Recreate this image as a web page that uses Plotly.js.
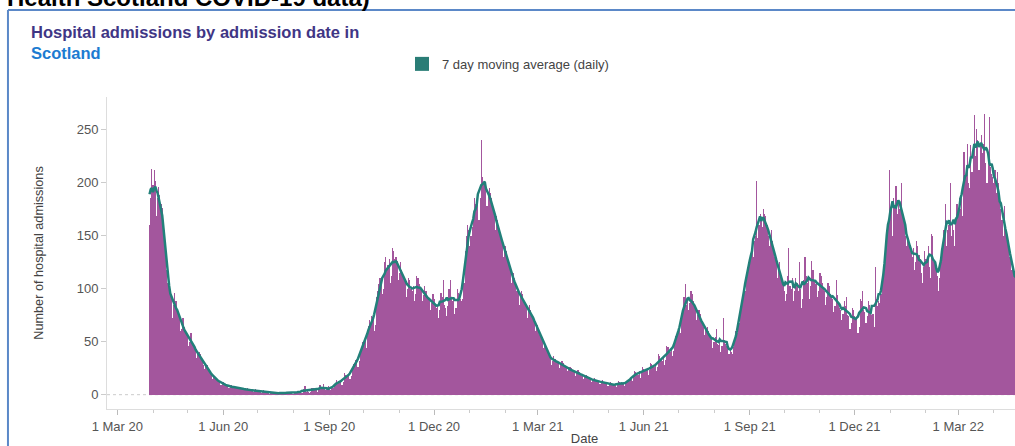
<!DOCTYPE html>
<html><head><meta charset="utf-8">
<script src="https://cdn.plot.ly/plotly-3.0.1.min.js"></script>
<style>html,body{margin:0;padding:0;overflow:hidden;background:#fff;width:1015px;height:446px}#chart{width:1062px;height:446px}</style>
</head><body><div id="chart"></div>
<script>
// First day with data
const firstDate = '2020-03-29';
// Daily admissions, 29 Mar 2020 - 27 Dec 2020
const dailyAdmissionsA = [160,
185,213,198,212,201,168,185,
196,188,180,176,162,145,136,
118,105,100,98,90,72,85,
96,88,80,78,72,60,62,
72,64,60,58,55,46,50,
58,50,48,44,42,35,38,
40,38,34,32,28,24,27,
28,24,22,20,19,15,17,
17,15,14,12,12,9,11,
12,10,9,9,8,6,8,
9,8,7,7,6,5,6,
7,6,6,5,5,4,5,
6,5,4,4,4,3,4,
5,4,3,3,3,2,3,
4,3,2,3,2,1,2,
3,2,2,1,2,1,1,
2,2,1,2,1,1,1,
3,2,2,2,1,1,2,
3,3,2,3,2,2,2,
5,8,3,4,3,2,3,
6,6,5,4,5,3,5,
9,7,6,10,5,4,6,
8,5,4,6,8,6,9,
14,12,13,11,12,9,12,
20,19,18,17,19,15,18,
26,29,30,33,31,26,32,
42,45,50,48,52,44,55,
65,70,68,74,72,60,66,
92,98,104,110,106,95,100,
125,130,118,122,128,105,112,
138,135,128,130,126,108,115,
125,118,112,108,106,92,100,
110,108,100,98,102,88,95,
112,110,104,100,98,88,94,
102,98,92,90,88,80,86,
95,90,85,82,84,72,80,
96,92,108,85,82,74,84,
100,108,92,88,90,76,82,
100,96,92,90,88,90,105];
// Daily admissions, 28 Dec 2020 - 26 Dec 2021
const dailyAdmissionsB = [
135,150,160,155,140,150,158,
168,185,180,178,190,165,185,
240,205,200,198,195,178,190,
195,190,185,178,172,155,168,
165,160,152,148,145,130,140,
140,135,125,122,120,105,112,
115,110,102,98,100,85,92,
98,95,88,85,84,72,80,
85,80,75,72,70,60,65,
66,62,56,54,52,44,48,
46,42,38,36,35,28,32,
36,34,32,30,31,25,28,
32,30,28,27,26,22,25,
26,25,22,21,22,18,20,
23,21,19,18,19,15,17,
19,18,16,15,14,12,14,
16,14,13,12,13,10,12,
14,12,11,11,10,8,10,
12,10,9,9,10,7,9,
13,12,11,10,11,8,10,
12,13,14,15,16,13,17,
22,21,20,19,22,16,20,
26,24,23,22,24,19,23,
30,29,27,26,28,22,26,
38,36,34,32,35,28,33,
46,45,42,40,44,36,41,
52,55,58,60,66,58,70,
78,92,104,85,90,80,86,
98,95,88,84,80,70,75,
80,76,70,66,64,56,62,
64,60,56,54,52,44,50,
54,62,48,47,50,40,46,
72,52,48,46,47,38,44,
40,38,45,52,60,58,65,
68,76,85,92,100,98,112,
120,125,128,132,138,130,145,
150,201,148,160,170,165,158,
175,170,168,160,150,140,145,
155,145,138,130,125,110,118,
125,115,108,102,98,88,95,
112,138,102,100,110,88,98,
110,105,98,125,100,82,90,
108,130,112,105,108,90,102,
126,118,108,104,105,92,98,
115,112,105,100,98,85,92,
105,102,95,92,90,78,84,
108,94,86,82,80,70,76,
88,84,92,75,74,62,68,
82,80,74,70,72,58,64,
90,88,98,80,78,68,74,
88,85,78,75,76,64,120,
90,84,88,86,95,104,112];
// Daily admissions, 27 Dec 2021 - 22 Apr 2022
const dailyAdmissionsC = [
120,132,145,158,212,175,180,
150,185,178,197,170,182,175,
180,200,168,165,150,140,150,
148,140,135,130,138,118,125,
145,140,132,128,115,105,120,
135,128,125,140,120,110,151,
150,125,120,118,112,98,110,
125,135,155,150,180,140,155,
160,200,150,165,155,140,165,
180,170,185,175,190,168,229,
205,215,236,200,195,235,210,
230,264,225,250,240,212,235,
245,228,236,265,218,200,222,
262,215,208,205,200,212,190,
210,200,185,175,165,150,178,
160,152,148,140,130,118,125,
118,112,110,95,105];

const legendLabel = '7 day moving average (daily)';
const titleLine1 = 'Hospital admissions by admission date in';
const titleLine2 = 'Scotland';
const topNote = 'Health Scotland COVID-19 data)';
const xTitle = 'Date';
const yTitle = 'Number of hospital admissions';

const daily = dailyAdmissionsA.concat(dailyAdmissionsB, dailyAdmissionsC);
const t0 = Date.parse(firstDate + 'T00:00:00Z');
const dates = daily.map((_, i) => new Date(t0 + i * 86400000).toISOString().slice(0, 10));
const movingAvg = daily.map((_, i) => {
  let s = 0, n = 0;
  for (let j = i - 3; j <= i + 3; j++) { if (j >= 0 && j < daily.length) { s += daily[j]; n++; } }
  return s / n;
});

const font = 'Liberation Sans, Arial, sans-serif';
const traces = [
  {type: 'bar', x: dates, y: daily, name: 'Daily admissions', showlegend: false,
   marker: {color: '#A3569D', line: {width: 0}}, hoverinfo: 'x+y'},
  {type: 'scatter', mode: 'lines', x: dates, y: movingAvg, name: legendLabel, showlegend: false,
   line: {color: '#22807A', width: 2.5}},
  {type: 'scatter', mode: 'markers', x: [null], y: [null], name: legendLabel, showlegend: true,
   marker: {symbol: 'square', size: 14, color: '#2A7D76'}}
];

const layout = {
  width: 1062, height: 446,
  margin: {l: 107, r: 0, t: 97, b: 37},
  paper_bgcolor: '#ffffff', plot_bgcolor: '#ffffff',
  bargap: 0,
  font: {family: font, color: '#555', size: 13},
  title: {
    text: '<b>' + titleLine1 + '</b><br><b><span style="color:#1C7BD1">' + titleLine2 + '</span></b>',
    font: {family: font, size: 16.5, color: '#3F3685'},
    xref: 'container', x: 31 / 1062, xanchor: 'left',
    yref: 'container', y: 1 - 38 / 446, yanchor: 'top'
  },
  showlegend: true,
  legend: {orientation: 'h', x: (402 - 107) / 955, xanchor: 'left', y: 1.106, yanchor: 'middle',
           font: {family: font, size: 13, color: '#444'}, bgcolor: 'rgba(0,0,0,0)'},
  xaxis: {
    type: 'date', range: ['2020-02-21 01:30', '2022-05-30 02:30'],
    tick0: '2020-03-01', dtick: 'M3', tickformat: '%-d %b %y',
    ticks: 'outside', ticklen: 5, tickcolor: '#bbb',
    showline: true, linecolor: '#ddd', linewidth: 1, showgrid: false, zeroline: false,
    minor: {tick0: '2020-03-01', dtick: 'M1', ticks: 'outside', ticklen: 3, tickcolor: '#ccc', showgrid: false},
    tickfont: {family: font, size: 13, color: '#555'},
    title: {text: xTitle, font: {family: font, size: 13, color: '#444'}, standoff: 2}
  },
  yaxis: {
    range: [-13.5, 280.6], tick0: 0, dtick: 50,
    ticks: 'outside', ticklen: 5, tickcolor: '#ccc',
    showline: true, linecolor: '#ddd', linewidth: 1, showgrid: false, zeroline: false,
    tickfont: {family: font, size: 13, color: '#555'},
    title: {text: yTitle, font: {family: font, size: 12.7, color: '#444'}, standoff: 30}
  },
  shapes: [
    {type: 'line', xref: 'paper', yref: 'y', x0: 0, x1: 1, y0: 0, y1: 0, layer: 'below',
     line: {color: '#cccccc', width: 1, dash: 'dot'}},
    {type: 'line', xref: 'paper', yref: 'paper', x0: -0.1037, x1: 1.01, y0: 1.2788, y1: 1.2788,
     line: {color: '#5B88C8', width: 2}},
    {type: 'line', xref: 'paper', yref: 'paper', x0: -0.1037, x1: -0.1037, y0: 1.2788, y1: -0.25,
     line: {color: '#5B88C8', width: 2}}
  ],
  annotations: [
    {text: '<b>' + topNote + '</b>', xref: 'paper', yref: 'paper', x: (5 - 107) / 955, xanchor: 'left',
     y: 1.3190, yanchor: 'middle', showarrow: false, font: {family: font, size: 24, color: '#000'}}
  ]
};

Plotly.newPlot('chart', traces, layout, {displayModeBar: false, staticPlot: true});
</script>
</body></html>
